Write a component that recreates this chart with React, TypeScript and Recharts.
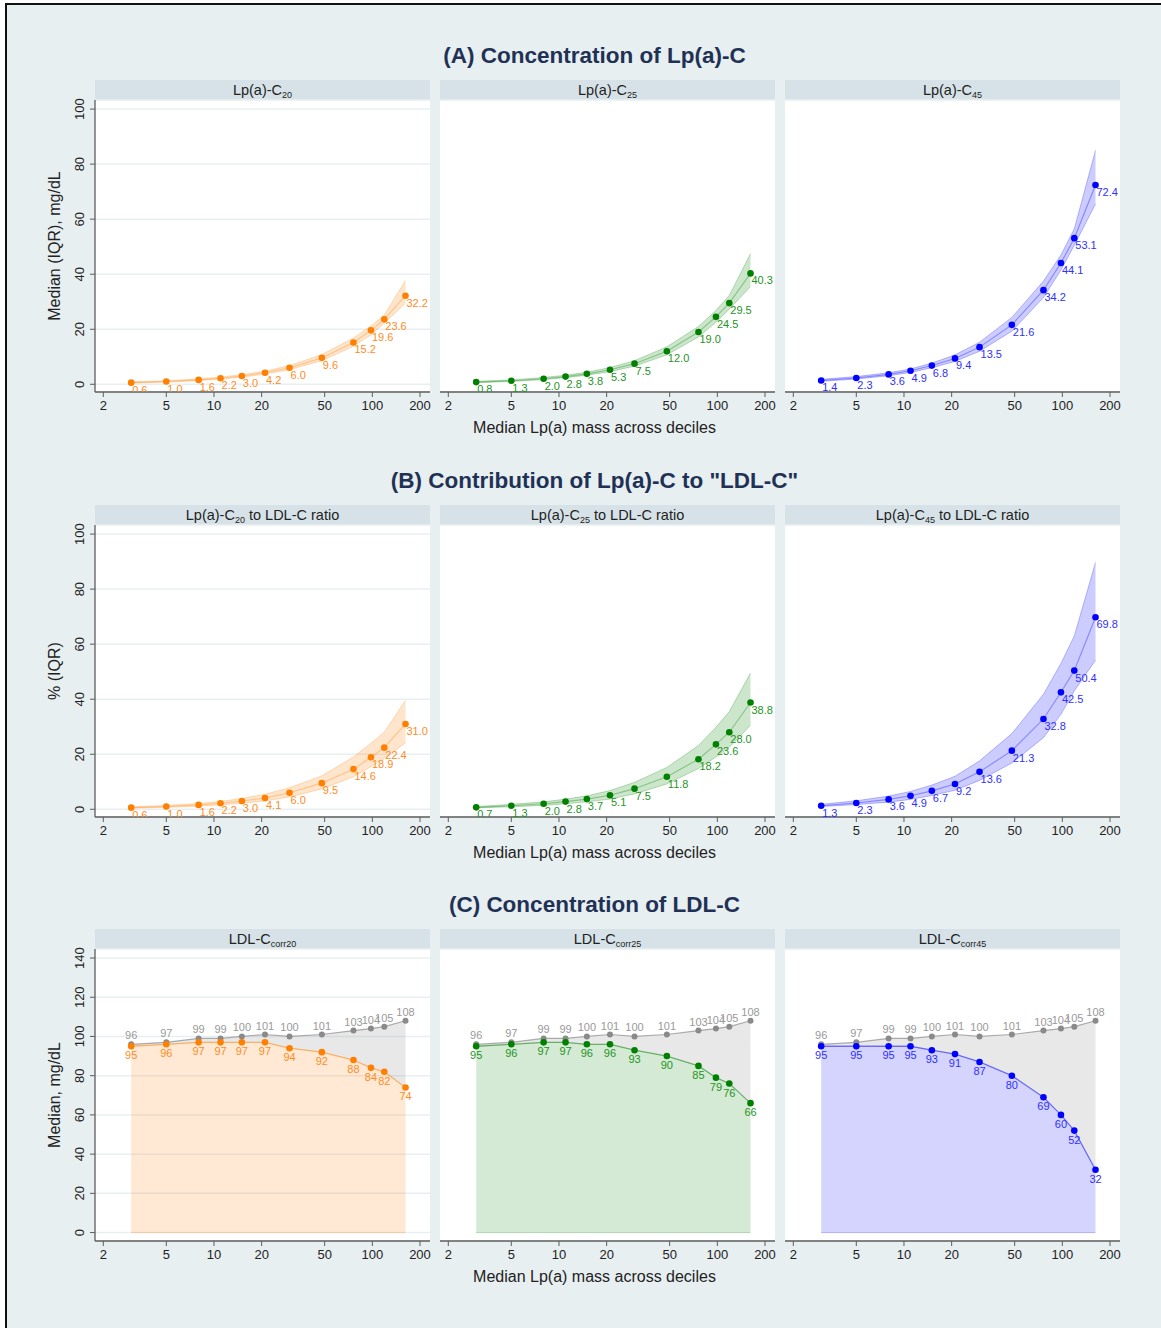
import React from "react";
import { ComposedChart, Line, Area, XAxis, YAxis, CartesianGrid } from "recharts";

// x positions: median Lp(a) mass of each decile group
const LPA_MASS = [3, 5, 8, 11, 15, 21, 30, 48, 76, 98, 119, 162];
const X_TICKS = [2, 5, 10, 20, 50, 100, 200];

// (A) Lp(a)-C concentration, median and IQR
const A20_MED = [0.6, 1.0, 1.6, 2.2, 3.0, 4.2, 6.0, 9.6, 15.2, 19.6, 23.6, 32.2];
const A20_LO = [0.4, 0.8, 1.3, 1.9, 2.6, 3.7, 5.3, 8.6, 13.8, 18.0, 22.2, 29.5];
const A20_HI = [0.9, 1.3, 2.0, 2.6, 3.5, 4.8, 6.8, 10.8, 16.8, 21.2, 25.2, 37.8];
const A25_MED = [0.8, 1.3, 2.0, 2.8, 3.8, 5.3, 7.5, 12.0, 19.0, 24.5, 29.5, 40.3];
const A25_LO = [0.6, 1.0, 1.7, 2.4, 3.3, 4.6, 6.6, 10.7, 17.2, 22.5, 27.3, 35.5];
const A25_HI = [1.1, 1.6, 2.5, 3.3, 4.4, 6.1, 8.6, 13.6, 21.0, 26.8, 32.3, 47.5];
const A45_MED = [1.4, 2.3, 3.6, 4.9, 6.8, 9.4, 13.5, 21.6, 34.2, 44.1, 53.1, 72.4];
const A45_LO = [1.1, 1.9, 3.1, 4.3, 6.0, 8.3, 12.0, 19.3, 31.5, 41.5, 50.5, 65.5];
const A45_HI = [1.8, 2.8, 4.2, 5.6, 7.7, 10.7, 15.3, 24.3, 37.5, 47.0, 56.5, 85.0];

// (B) Lp(a)-C to LDL-C ratio, %, median and IQR
const B20_MED = [0.6, 1.0, 1.6, 2.2, 3.0, 4.1, 6.0, 9.5, 14.6, 18.9, 22.4, 31.0];
const B20_LO = [0.4, 0.7, 1.1, 1.6, 2.2, 3.0, 4.5, 7.4, 11.8, 15.5, 18.5, 24.2];
const B20_HI = [0.9, 1.4, 2.1, 2.9, 3.9, 5.5, 7.8, 12.2, 19.0, 24.0, 28.0, 39.6];
const B25_MED = [0.7, 1.3, 2.0, 2.8, 3.7, 5.1, 7.5, 11.8, 18.2, 23.6, 28.0, 38.8];
const B25_LO = [0.5, 0.9, 1.4, 2.0, 2.7, 3.7, 5.6, 9.2, 14.8, 19.0, 22.5, 30.5];
const B25_HI = [1.0, 1.8, 2.7, 3.7, 4.9, 6.8, 9.8, 15.2, 23.2, 29.8, 35.5, 49.5];
const B45_MED = [1.3, 2.3, 3.6, 4.9, 6.7, 9.2, 13.6, 21.3, 32.8, 42.5, 50.4, 69.8];
const B45_LO = [1.0, 1.7, 2.6, 3.6, 5.0, 6.9, 10.5, 16.8, 26.0, 34.5, 43.0, 54.2];
const B45_HI = [1.8, 3.1, 4.8, 6.5, 8.8, 12.0, 17.6, 27.5, 41.8, 53.0, 63.0, 89.7];

// (C) LDL-C, uncorrected and corrected medians
const LDL_C = [96, 97, 99, 99, 100, 101, 100, 101, 103, 104, 105, 108];
const LDL_CORR20 = [95, 96, 97, 97, 97, 97, 94, 92, 88, 84, 82, 74];
const LDL_CORR25 = [95, 96, 97, 97, 96, 96, 93, 90, 85, 79, 76, 66];
const LDL_CORR45 = [95, 95, 95, 95, 93, 91, 87, 80, 69, 60, 52, 32];

const FONT = '"Liberation Sans", Arial, Helvetica, sans-serif';
const ORANGE = "#ff7f00";
const GREEN = "#008000";
const BLUE = "#0000ff";
const GRAY = "#8a8a8a";
const LABEL_COLORS: Record<string, string> = {
  [ORANGE]: "#ff8c1f",
  [GREEN]: "#1f941f",
  [BLUE]: "#3030ff",
  [GRAY]: "#999999",
};

const BG = "#e8eff1";
const STRIP = "#d7e2e8";
const GRID = "#e8eff1";
const AXIS = "#5c5c5c";
const TITLE = "#1f3256";

const PLOT_W = 335;
const PLOT_H = 292;
const Y_W = 40;
const X_H = 30;
const R_M = 18;
const T_M = 16;
const COL_LEFT = [95, 440, 785];
const ROW_TOP = [100, 525, 949];
const X_DOMAIN = [1.773, 231.3];
const MID_X = 594.5;

const bandRows = (med: number[], lo: number[], hi: number[]) =>
  LPA_MASS.map((x, i) => ({ x, y: med[i], lo: lo[i], hi: hi[i] }));
const ldlRows = (corr: number[]) =>
  LPA_MASS.map((x, i) => ({ x, ldl: LDL_C[i], corr: corr[i] }));

const XTick = (p: any) => (
  <text x={p.x} y={p.y + 13} textAnchor="middle" fontSize={13} fill="#222" fontFamily={FONT}>
    {p.payload.value}
  </text>
);

const YTick = (p: any) => {
  const tx = p.x - 6;
  return (
    <text
      x={tx}
      y={p.y}
      transform={`rotate(-90 ${tx} ${p.y})`}
      textAnchor="middle"
      fontSize={13}
      fill="#222"
      fontFamily={FONT}
    >
      {p.payload.value}
    </text>
  );
};

// dot with its value label; where = "br" (below right), "above", "below"
const labelDot = (color: string, key: string, where: string, digits: number, r: number) => (p: any) => {
  const { cx, cy, index } = p;
  if (cx == null || cy == null) return <g key={`e${index}`} />;
  const v = p.payload[key];
  let tx = cx;
  let ty = cy + 13;
  let anchor = "middle";
  if (where === "br") {
    tx = cx + 1;
    ty = cy + 11;
    anchor = "start";
  } else if (where === "above") {
    ty = cy - 5;
  }
  return (
    <g key={`d${key}${index}`}>
      <circle cx={cx} cy={cy} r={r} fill={color} />
      <text x={tx} y={ty} textAnchor={anchor} fontSize={11} fill={LABEL_COLORS[color]} fontFamily={FONT}>
        {v.toFixed(digits)}
      </text>
    </g>
  );
};

function Panel({ row, col, data, color, kind }: any) {
  const isLdl = kind === "ldl";
  const yDomain = isLdl ? [-4.3, 144.6] : [-2.8, 103.3];
  const yTicks = isLdl ? [0, 20, 40, 60, 80, 100, 120, 140] : [0, 20, 40, 60, 80, 100];
  const showY = col === 0;
  return (
    <div style={{ position: "absolute", left: COL_LEFT[col] - Y_W, top: ROW_TOP[row] - T_M }}>
      <ComposedChart
        width={Y_W + PLOT_W + R_M}
        height={T_M + PLOT_H + X_H}
        data={data}
        margin={{ top: T_M, right: R_M, bottom: 0, left: 0 }}
      >
        <CartesianGrid vertical={false} fill="#ffffff" fillOpacity={1} stroke={GRID} strokeWidth={1.5} />
        <XAxis
          type="number"
          dataKey="x"
          scale="log"
          domain={X_DOMAIN}
          allowDataOverflow
          ticks={X_TICKS}
          interval={0}
          height={X_H}
          tickSize={5}
          tickMargin={0}
          tick={XTick}
          tickLine={{ stroke: AXIS }}
          axisLine={{ stroke: AXIS, strokeWidth: 1.3 }}
        />
        <YAxis
          type="number"
          domain={yDomain}
          allowDataOverflow
          ticks={yTicks}
          interval={0}
          width={Y_W}
          tickSize={5}
          tickMargin={0}
          tick={showY ? YTick : false}
          tickLine={showY ? { stroke: AXIS } : false}
          axisLine={showY ? { stroke: AXIS, strokeWidth: 1.3 } : false}
        />
        {isLdl ? (
          <>
            <Area
              type="linear"
              dataKey={(d: any) => [d.corr, d.ldl]}
              fill={GRAY}
              fillOpacity={0.2}
              stroke="none"
              isAnimationActive={false}
            />
            <Area
              type="linear"
              dataKey={(d: any) => [0, d.corr]}
              fill={color}
              fillOpacity={0.17}
              stroke={color}
              strokeOpacity={0.25}
              strokeWidth={1}
              isAnimationActive={false}
            />
            <Line
              type="linear"
              dataKey="ldl"
              stroke={GRAY}
              strokeOpacity={0.7}
              strokeWidth={1.2}
              dot={labelDot(GRAY, "ldl", "above", 0, 3)}
              activeDot={false}
              isAnimationActive={false}
            />
            <Line
              type="linear"
              dataKey="corr"
              stroke={color}
              strokeOpacity={0.4}
              strokeWidth={1.3}
              dot={labelDot(color, "corr", "below", 0, 3.3)}
              activeDot={false}
              isAnimationActive={false}
            />
          </>
        ) : (
          <>
            <Area
              type="linear"
              dataKey={(d: any) => [d.lo, d.hi]}
              fill={color}
              fillOpacity={0.2}
              stroke={color}
              strokeOpacity={0.25}
              strokeWidth={1}
              isAnimationActive={false}
            />
            <Line
              type="linear"
              dataKey="y"
              stroke={color}
              strokeOpacity={0.35}
              strokeWidth={1.1}
              dot={labelDot(color, "y", "br", 1, 3.3)}
              activeDot={false}
              isAnimationActive={false}
            />
          </>
        )}
      </ComposedChart>
    </div>
  );
}

const Strip = ({ row, col, children }: any) => (
  <div
    style={{
      position: "absolute",
      left: COL_LEFT[col],
      top: ROW_TOP[row] - 20,
      width: PLOT_W,
      height: 20,
      background: STRIP,
      fontFamily: FONT,
      fontSize: 14.5,
      color: "#222",
      textAlign: "center",
      lineHeight: "20px",
    }}
  >
    {children}
  </div>
);

const sub = (s: string) => (
  <sub style={{ fontSize: 9, verticalAlign: "baseline", position: "relative", top: 3 }}>{s}</sub>
);

const SectionTitle = ({ row, text }: any) => (
  <div
    style={{
      position: "absolute",
      left: MID_X - 400,
      width: 800,
      top: ROW_TOP[row] - 57,
      textAlign: "center",
      fontFamily: FONT,
      fontWeight: "bold",
      fontSize: 22.5,
      color: TITLE,
    }}
  >
    {text}
  </div>
);

const XTitle = ({ row }: any) => (
  <div
    style={{
      position: "absolute",
      left: MID_X - 300,
      width: 600,
      top: ROW_TOP[row] + 319,
      textAlign: "center",
      fontFamily: FONT,
      fontSize: 16,
      color: "#222",
    }}
  >
    Median Lp(a) mass across deciles
  </div>
);

const YTitle = ({ row, text }: any) => (
  <div
    style={{
      position: "absolute",
      left: 55 - 150,
      width: 300,
      top: ROW_TOP[row] + PLOT_H / 2 - 10,
      height: 20,
      lineHeight: "20px",
      textAlign: "center",
      transform: "rotate(-90deg)",
      fontFamily: FONT,
      fontSize: 16,
      color: "#222",
    }}
  >
    {text}
  </div>
);

export default function App() {
  const colors = [ORANGE, GREEN, BLUE];
  const rowA = [bandRows(A20_MED, A20_LO, A20_HI), bandRows(A25_MED, A25_LO, A25_HI), bandRows(A45_MED, A45_LO, A45_HI)];
  const rowB = [bandRows(B20_MED, B20_LO, B20_HI), bandRows(B25_MED, B25_LO, B25_HI), bandRows(B45_MED, B45_LO, B45_HI)];
  const rowC = [ldlRows(LDL_CORR20), ldlRows(LDL_CORR25), ldlRows(LDL_CORR45)];
  const nums = ["20", "25", "45"];

  return (
    <div style={{ position: "absolute", left: 0, top: 0, width: 1161, height: 1328, background: "#fff", overflow: "hidden" }}>
      <div
        style={{
          position: "absolute",
          left: 5,
          top: 3,
          width: 1161,
          height: 1330,
          background: BG,
          borderLeft: "2px solid #111",
          borderTop: "2px solid #111",
        }}
      />
      <SectionTitle row={0} text="(A) Concentration of Lp(a)-C" />
      <SectionTitle row={1} text={'(B) Contribution of Lp(a)-C to "LDL-C"'} />
      <SectionTitle row={2} text="(C) Concentration of LDL-C" />
      <YTitle row={0} text="Median (IQR), mg/dL" />
      <YTitle row={1} text="% (IQR)" />
      <YTitle row={2} text="Median, mg/dL" />
      {[0, 1, 2].map((r) => (
        <XTitle key={`xt${r}`} row={r} />
      ))}
      {nums.map((n, c) => (
        <React.Fragment key={`s${n}`}>
          <Strip row={0} col={c}>
            Lp(a)-C{sub(n)}
          </Strip>
          <Strip row={1} col={c}>
            Lp(a)-C{sub(n)} to LDL-C ratio
          </Strip>
          <Strip row={2} col={c}>
            LDL-C{sub("corr" + n)}
          </Strip>
        </React.Fragment>
      ))}
      {rowA.map((d, c) => (
        <Panel key={`a${c}`} row={0} col={c} data={d} color={colors[c]} kind="band" />
      ))}
      {rowB.map((d, c) => (
        <Panel key={`b${c}`} row={1} col={c} data={d} color={colors[c]} kind="band" />
      ))}
      {rowC.map((d, c) => (
        <Panel key={`c${c}`} row={2} col={c} data={d} color={colors[c]} kind="ldl" />
      ))}
    </div>
  );
}
